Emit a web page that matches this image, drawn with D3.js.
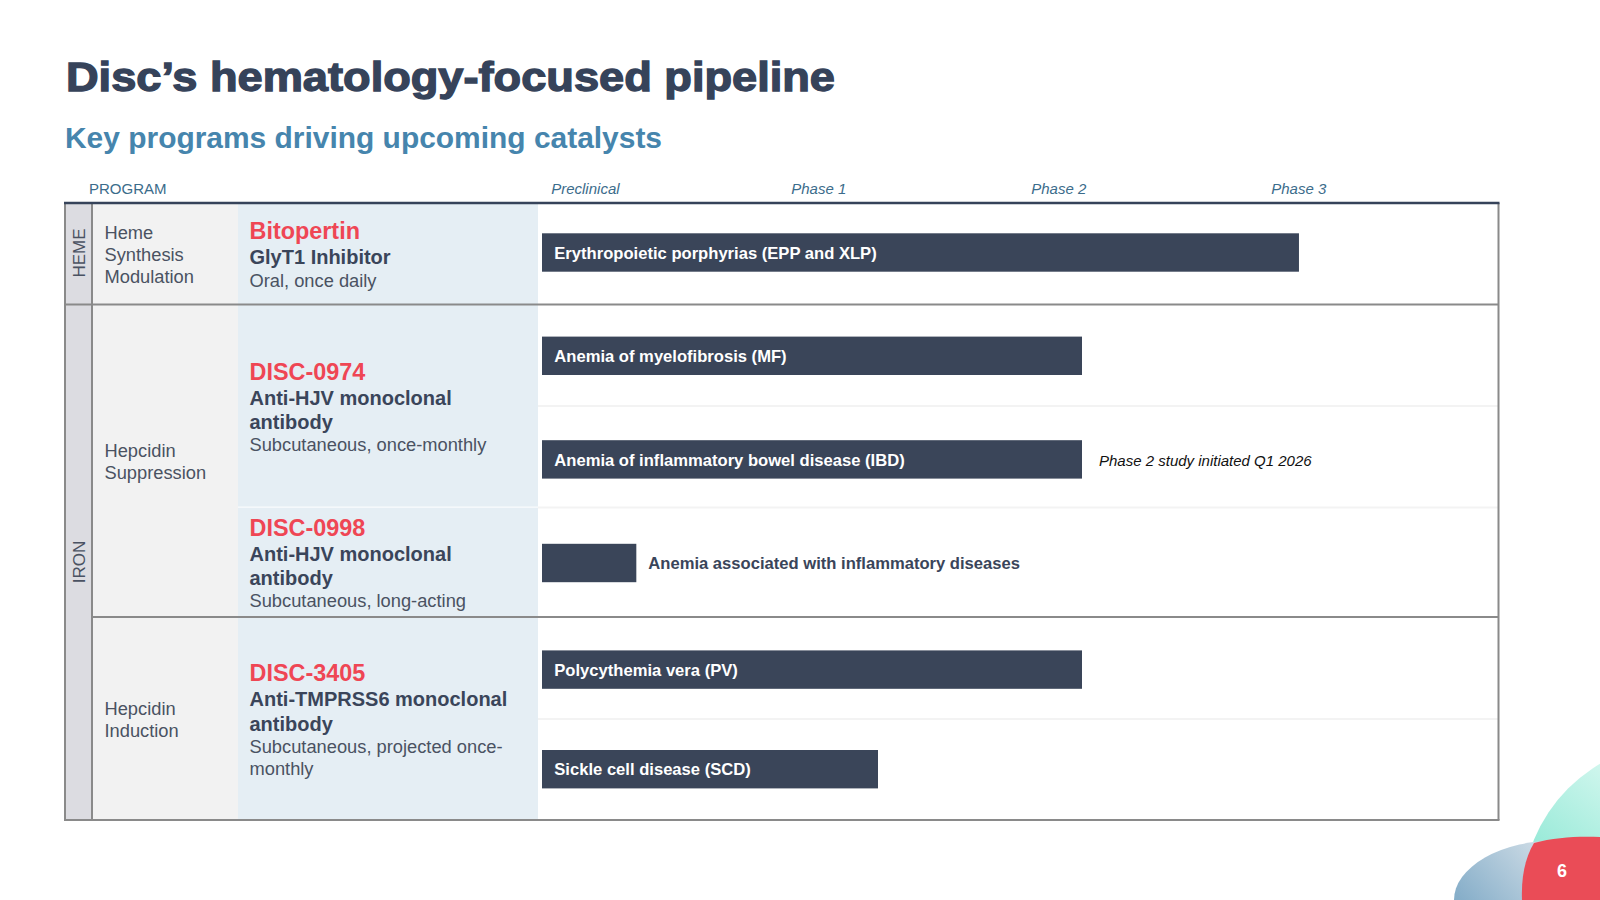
<!DOCTYPE html>
<html>
<head>
<meta charset="utf-8">
<script src="https://cdn.jsdelivr.net/npm/d3@7"></script>
<style>
  html, body { margin: 0; padding: 0; background: #fff; overflow: hidden; }
  text { font-family: "Liberation Sans", Arial, sans-serif; }
</style>
</head>
<body>
<div id="vis"></div>
<script>
const phases = ['Preclinical', 'Phase 1', 'Phase 2', 'Phase 3'];

const groups = ['HEME', 'IRON'];
const programs = [['Heme', 'Synthesis', 'Modulation'], ['Hepcidin', 'Suppression'], ['Hepcidin', 'Induction']];

const drugNames = ['Bitopertin', 'DISC-0974', 'DISC-0998', 'DISC-3405'];
const drugTargets = [
  ['GlyT1 Inhibitor'],
  ['Anti-HJV monoclonal', 'antibody'],
  ['Anti-HJV monoclonal', 'antibody'],
  ['Anti-TMPRSS6 monoclonal', 'antibody'],
];
const drugRoutes = [
  ['Oral, once daily'],
  ['Subcutaneous, once-monthly'],
  ['Subcutaneous, long-acting'],
  ['Subcutaneous, projected once-', 'monthly'],
];

const indications = [
  'Erythropoietic porphyrias (EPP and XLP)',
  'Anemia of myelofibrosis (MF)',
  'Anemia of inflammatory bowel disease (IBD)',
  'Anemia associated with inflammatory diseases',
  'Polycythemia vera (PV)',
  'Sickle cell disease (SCD)',
];
// how far each bar reaches, in phases from the start of preclinical
const progress = [3.154, 2.25, 2.25, 0.393, 2.25, 1.4];
const notes = ['', '', 'Phase 2 study initiated Q1 2026', '', '', ''];

// layout
const table = {left: 65, right: 1498.5, top: 203, bottom: 820};
const colEdges = [65, 92, 238, 538];
const groupEdges = [203, 304.6, 820];
const rowEdges = [203, 304.6, 406, 507.6, 617, 719, 820];
const barCenters = [252.5, 355.8, 459.4, 563, 669.6, 769.2];
const programBaselines = [238.7, 457, 714.7];
const drugBaselines = [239.2, 379.8, 536, 681];
const targetBaselines = [264.3, 404.8, 561, 706.3];
const routeBaselines = [286.6, 451, 607.4, 753];
const drugTops = [203, 304.6, 507.6, 617];
const drugBottoms = [304.6, 506.6, 617, 820];
const barHeight = 38.4;

const dark = '#3a455a';
const body = '#4a5262';
const red = '#ef4654';
const headerBlue = '#3b6c8b';

const svg = d3.select('#vis').append('svg')
    .attr('width', 1600)
    .attr('height', 900)
    .style('display', 'block');

const x = d3.scaleLinear().domain([0, 4]).range([542, 1502]);
const phaseX = d3.scalePoint().domain(phases).range([550.7, 1270.7]);
const rowY = d3.scaleLinear().domain(d3.range(barCenters.length)).range(barCenters);

drawBackdrop();
drawTitles();
drawTable();
drawBars();
drawHeader();


function drawBackdrop() {
  const defs = svg.append('defs');

  const gradient = (id, x1, y1, x2, y2, c1, c2) => {
    const g = defs.append('linearGradient').attr('id', id)
        .attr('gradientUnits', 'userSpaceOnUse')
        .attr('x1', x1).attr('y1', y1).attr('x2', x2).attr('y2', y2);
    g.append('stop').attr('offset', 0).attr('stop-color', c1);
    g.append('stop').attr('offset', 1).attr('stop-color', c2);
  };
  gradient('teal', 1540, 850, 1610, 760, '#98ead8', '#d4f7ef');
  gradient('blue', 1460, 900, 1530, 840, '#86aec9', '#c9d9e4');

  svg.append('circle')
      .attr('cx', 1680).attr('cy', 900).attr('r', 158)
      .attr('fill', 'url(#teal)');
  svg.append('ellipse')
      .attr('cx', 1560).attr('cy', 900).attr('rx', 106).attr('ry', 60)
      .attr('fill', 'url(#blue)');

  const p = d3.path();
  p.moveTo(1522, 900);
  p.bezierCurveTo(1521, 875, 1526, 856, 1534, 843);
  p.bezierCurveTo(1555, 837, 1580, 836, 1600, 837);
  p.lineTo(1600, 900);
  p.closePath();
  svg.append('path').attr('d', p.toString()).attr('fill', '#ea4c57');

  svg.append('text')
      .attr('x', 1562).attr('y', 876.5)
      .attr('text-anchor', 'middle')
      .attr('font-size', 18).attr('font-weight', 700)
      .attr('fill', '#fff')
      .text('6');
}


function drawTitles() {
  svg.append('text')
      .attr('x', 66).attr('y', 91)
      .attr('font-size', 40).attr('font-weight', 700)
      .attr('fill', '#36435a')
      .attr('stroke', '#36435a').attr('stroke-width', 1.3)
      .attr('textLength', 769).attr('lengthAdjust', 'spacingAndGlyphs')
      .text('Disc\u2019s hematology-focused pipeline');

  svg.append('text')
      .attr('x', 65).attr('y', 147.5)
      .attr('font-size', 29.5).attr('font-weight', 700)
      .attr('fill', '#4685ad')
      .attr('textLength', 597).attr('lengthAdjust', 'spacingAndGlyphs')
      .text('Key programs driving upcoming catalysts');
}


function drawTable() {
  const height = table.bottom - table.top;

  svg.append('rect')
      .attr('x', colEdges[0]).attr('y', table.top)
      .attr('width', colEdges[1] - colEdges[0]).attr('height', height)
      .attr('fill', '#dcdce1');
  svg.append('rect')
      .attr('x', colEdges[1]).attr('y', table.top)
      .attr('width', colEdges[2] - colEdges[1]).attr('height', height)
      .attr('fill', '#f2f2f2');

  svg.selectAll('.drug-cell')
    .data(drugNames)
    .join('rect')
      .attr('class', 'drug-cell')
      .attr('x', colEdges[2])
      .attr('y', (d, i) => drugTops[i])
      .attr('width', colEdges[3] - colEdges[2])
      .attr('height', (d, i) => drugBottoms[i] - drugTops[i])
      .attr('fill', '#e5eef4');

  // faint lines between indications
  svg.selectAll('.row-line')
    .data([rowEdges[2], rowEdges[3], rowEdges[5]])
    .join('line')
      .attr('class', 'row-line')
      .attr('x1', colEdges[3]).attr('x2', table.right)
      .attr('y1', d => d).attr('y2', d => d)
      .attr('stroke', '#f3f3f3').attr('stroke-width', 2);

  const gray = '#8a8a8a';

  svg.append('line')
      .attr('x1', colEdges[0]).attr('x2', table.right)
      .attr('y1', groupEdges[1]).attr('y2', groupEdges[1])
      .attr('stroke', gray).attr('stroke-width', 2);
  svg.append('line')
      .attr('x1', colEdges[1]).attr('x2', table.right)
      .attr('y1', rowEdges[4]).attr('y2', rowEdges[4])
      .attr('stroke', gray).attr('stroke-width', 2);
  svg.append('line')
      .attr('x1', colEdges[0] - 1).attr('x2', table.right + 1)
      .attr('y1', table.bottom).attr('y2', table.bottom)
      .attr('stroke', gray).attr('stroke-width', 2);

  svg.selectAll('.col-line')
    .data([table.left, colEdges[1], table.right])
    .join('line')
      .attr('class', 'col-line')
      .attr('x1', d => d).attr('x2', d => d)
      .attr('y1', table.top).attr('y2', table.bottom)
      .attr('stroke', gray).attr('stroke-width', 2);

  svg.append('line')
      .attr('x1', table.left - 1).attr('x2', table.right + 1)
      .attr('y1', table.top).attr('y2', table.top)
      .attr('stroke', '#36435a').attr('stroke-width', 2.5);

  // rotated group labels
  svg.selectAll('.group-label')
    .data(groups)
    .join('text')
      .attr('class', 'group-label')
      .attr('transform', (d, i) => `translate(84.5, ${[253, 562][i]}) rotate(-90)`)
      .attr('text-anchor', 'middle')
      .attr('font-size', 17)
      .attr('fill', body)
      .text(d => d);

  // program names
  programs.forEach((lines, i) => {
    svg.selectAll(`.program-${i}`)
      .data(lines)
      .join('text')
        .attr('class', `program-${i}`)
        .attr('x', 104.5)
        .attr('y', (d, j) => programBaselines[i] + j * 22)
        .attr('font-size', 18.3)
        .attr('fill', body)
        .text(d => d);
  });

  // drug blocks
  drugNames.forEach((name, i) => {
    const g = svg.append('g').attr('transform', 'translate(249.5, 0)');

    g.append('text')
        .attr('y', drugBaselines[i])
        .attr('font-size', 23.4).attr('font-weight', 700)
        .attr('fill', red)
        .text(name);

    g.selectAll('.target')
      .data(drugTargets[i])
      .join('text')
        .attr('class', 'target')
        .attr('y', (d, j) => targetBaselines[i] + j * 24.3)
        .attr('font-size', 20).attr('font-weight', 700)
        .attr('fill', dark)
        .text(d => d);

    g.selectAll('.route')
      .data(drugRoutes[i])
      .join('text')
        .attr('class', 'route')
        .attr('y', (d, j) => routeBaselines[i] + j * 22)
        .attr('font-size', 18.3)
        .attr('fill', body)
        .text(d => d);
  });
}


function drawBars() {
  const bars = svg.selectAll('.bar')
    .data(indications.map((label, i) => ({label, end: progress[i], note: notes[i], row: i})))
    .join('g')
      .attr('class', 'bar')
      .attr('transform', d => `translate(${x(0)}, ${rowY(d.row)})`);

  bars.append('rect')
      .attr('y', -barHeight / 2)
      .attr('width', d => x(d.end) - x(0))
      .attr('height', barHeight)
      .attr('fill', '#3a4559');

  // short bars carry their label outside
  const fits = d => x(d.end) - x(0) > 200;

  bars.append('text')
      .attr('x', d => fits(d) ? 12.3 : x(d.end) - x(0) + 12)
      .attr('y', 6.2)
      .attr('font-size', 16.6).attr('font-weight', 700)
      .attr('fill', d => fits(d) ? '#fff' : dark)
      .text(d => d.label);

  bars.filter(d => d.note)
    .append('text')
      .attr('x', d => x(d.end) - x(0) + 17)
      .attr('y', 6.5)
      .attr('font-size', 15).attr('font-style', 'italic')
      .attr('fill', '#111')
      .text(d => d.note);
}


function drawHeader() {
  svg.append('text')
      .attr('x', 89).attr('y', 194)
      .attr('font-size', 15)
      .attr('fill', headerBlue)
      .text('PROGRAM');

  const axis = svg.append('g')
      .attr('transform', 'translate(0, 194)')
      .call(d3.axisTop(phaseX).tickSize(0).tickPadding(0));

  axis.select('.domain').remove();
  axis.selectAll('text')
      .attr('y', 0).attr('dy', 0)
      .attr('text-anchor', 'start')
      .attr('font-family', '"Liberation Sans", Arial, sans-serif')
      .attr('font-size', 15).attr('font-style', 'italic')
      .attr('fill', headerBlue);
}
</script>
</body>
</html>
